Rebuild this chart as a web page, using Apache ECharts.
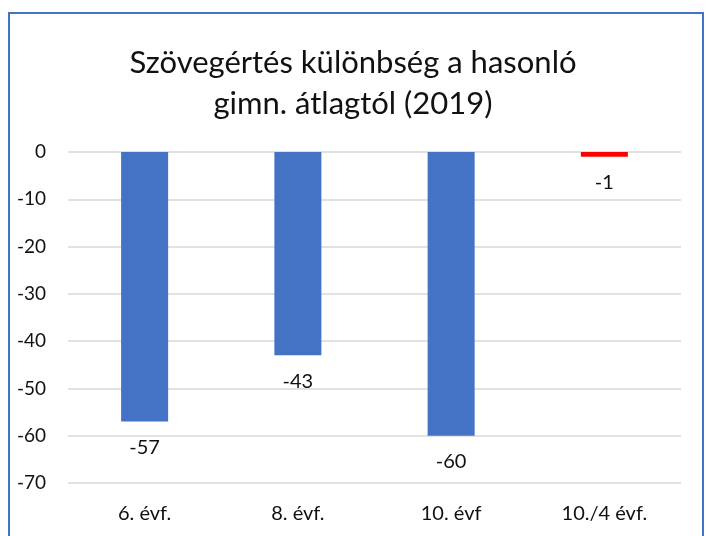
<!DOCTYPE html>
<html>
<head>
<meta charset="utf-8">
<script src="https://cdn.jsdelivr.net/npm/echarts@6/dist/echarts.min.js"></script>
<style>
  html, body { margin: 0; padding: 0; background: #fff; }
  #chart { width: 706px; height: 536px; }
</style>
</head>
<body>
<div id="chart"></div>
<script>
var categories = ["6. évf.", "8. évf.", "10. évf", "10./4 évf."];
var values = [-57, -43, -60, -1];
var titleText = "Szövegértés különbség a hasonló\ngimn. átlagtól (2019)";

var chart = echarts.init(document.getElementById("chart"));
chart.setOption({
    backgroundColor: "#fff",
    textStyle: { fontFamily: "Lato" },
    title: {
        text: titleText,
        left: "center",
        top: 37,
        textStyle: { fontSize: 31, fontWeight: "normal", color: "#111", lineHeight: 41, fontFamily: "Lato" }
    },
    graphic: [{
        type: "rect",
        shape: { x: 9, y: 13, width: 694, height: 600 },
        style: { fill: "none", stroke: "#4472C4", lineWidth: 2 },
        silent: true
    }],
    grid: { left: 68, right: 25, top: 152, bottom: 53 },
    xAxis: {
        type: "category",
        data: categories,
        position: "bottom",
        axisLine: { show: false, onZero: false },
        axisTick: { show: false },
        axisLabel: { color: "#111", fontSize: 20, margin: 21 }
    },
    yAxis: {
        type: "value",
        min: -70,
        max: 0,
        interval: 10,
        axisLine: { show: false },
        axisTick: { show: false },
        splitLine: { lineStyle: { color: "#d9d9d9", width: 1.5 } },
        axisLabel: { color: "#111", fontSize: 19, margin: 22 }
    },
    series: [{
        type: "bar",
        data: values,
        barWidth: 47,
        itemStyle: {
            color: function (p) { return p.dataIndex === 3 ? "#ff0000" : "#4472C4"; }
        },
        label: {
            show: true,
            position: "bottom",
            distance: 16,
            color: "#111",
            fontSize: 20
        }
    }]
});
</script>
</body>
</html>
